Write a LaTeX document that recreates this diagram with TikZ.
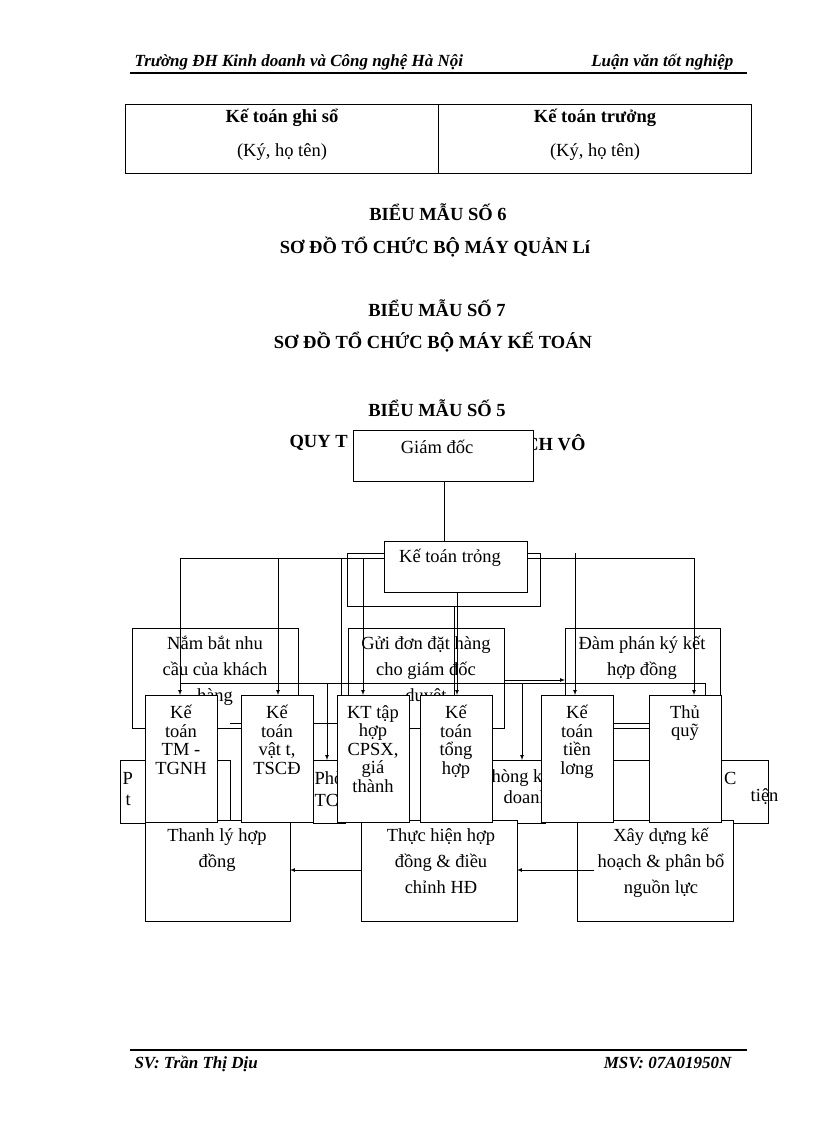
\documentclass[tikz,border=0pt]{standalone}
\usepackage{fontspec}
\setmainfont{Liberation Serif}
\begin{document}
\begin{tikzpicture}[x=1pt,y=-1pt,
 bx/.style={draw,fill=white,line width=0.8pt},
 t/.style={font=\fontsize{18.5}{20}\selectfont,align=center},
 tf/.style={font=\fontsize{18.5}{18.5}\selectfont,align=center},
 tb/.style={font=\bfseries\fontsize{18.5}{20}\selectfont},
 hd/.style={font=\itshape\bfseries\fontsize{17}{18}\selectfont},
 ar/.style={-latex,line width=0.7pt},
 ln/.style={line width=0.7pt}]
\useasboundingbox (0,0) rectangle (816,1123);
% header
\node[hd,anchor=base west] (h1) at (131,67) {Trường ĐH Kinh doanh và Công nghệ Hà Nội};
\node[hd,anchor=base east] (h2) at (737,67) {Luận văn tốt nghiệp};
\draw[line width=1.5pt] (130,73) -- (747,73);
% table
\draw[line width=0.8pt] (125,104) rectangle (751,173);
\draw[line width=0.8pt] (438,104) -- (438,173);
\node[tb] (k1) at (282,118) {Kế toán ghi sổ};
\node[t] (k2) at (282,152) {(Ký, họ tên)};
\node[tb] (k3) at (595,118) {Kế toán trưởng};
\node[t] (k4) at (595,152) {(Ký, họ tên)};
% titles
\node[tb] (t1) at (438,212) {BIỂU MẪU SỐ 6};
\node[tb] (t2) at (435,247) {SƠ ĐỒ TỔ CHỨC BỘ MÁY QUẢN Lí};
\node[tb] (t3) at (437,308) {BIỂU MẪU SỐ 7};
\node[tb] (t4) at (433,342) {SƠ ĐỒ TỔ CHỨC BỘ MÁY KẾ TOÁN};
\node[tb] (t5) at (437,408) {BIỂU MẪU SỐ 5};
\node[tb,anchor=west] (t6) at (286,443) {QUY T};
\node[tb,anchor=east] (t7) at (589,443) {CH VÔ};
% background boxes row 2
\draw[bx] (132,628) rectangle (298,728);
\node[t,anchor=north] (n1) at (215,633) {Nắm bắt nhu\\[6pt]cầu của khách\\[6pt]hàng};
\draw[bx] (348,628) rectangle (504,728);
\node[t,anchor=north] (n2) at (426,633) {Gửi đơn đặt hàng\\[6pt]cho giám đốc\\[6pt]duyệt};
\draw[bx] (565,628) rectangle (720,728);
\node[t,anchor=north] (n3) at (642,633) {Đàm phán ký kết\\[6pt]hợp đồng};
% row 3 background
\draw[bx] (120,760) rectangle (230,823);
\node[t,anchor=west] (p1) at (119,778) {P}; \node[t,anchor=west] (p1b) at (122,800) {t};
\draw[bx] (313,760) rectangle (345,823);
\node[t,anchor=west] (p2) at (311,778) {Phò}; \node[t,anchor=west] (p2b) at (311,800) {TC};
\draw[bx] (492,760) rectangle (545,823);
\node[t,anchor=west] (p3) at (488,778) {hòng k}; \node[t,anchor=west] (p3b) at (500,797) {doanh};
\draw[bx] (613,760) rectangle (768,823);
\node[t,anchor=east] (p4) at (740,778) {C}; \node[t,anchor=east] (p4b) at (782,797) {tiện};
% connectors behind
\draw[ln] (180,683) -- (565,683);
\draw[ar] (504,680) -- (565,680);
\draw[ln] (504,683) -- (705,683) -- (705,698);
\draw[ar] (327,683) -- (327,760);
\draw[ar] (522,683) -- (522,760);
\draw[ln] (230,723) -- (241,723) (313,723) -- (348,723) (613,723) -- (649,723);
% row 4
\draw[bx] (145,820) rectangle (290,921);
\node[t,anchor=north] (r1) at (217,825) {Thanh lý hợp\\[6pt]đồng};
\draw[bx] (361,820) rectangle (517,921);
\node[t,anchor=north] (r2) at (441,825) {Thực hiện hợp\\[6pt]đồng \& điều\\[6pt]chỉnh HĐ};
\draw[bx] (577,820) rectangle (733,921);
\node[t,anchor=north] (r3) at (661,825) {Xây dựng kế\\[6pt]hoạch \& phân bổ\\[6pt]nguồn lực};
\draw[ar] (r3.west |- 0,870) -- (517,870);
\draw[ar] (361,870) -- (290,870);
% top of chart
\draw[bx] (347,553) rectangle (540,606);
\node[draw,fill=white,line width=0.8pt,minimum width=180pt,minimum height=51pt,anchor=north west] (gd) at (353,430) {};
\node[t] (gdt) at (437,447) {Giám đốc};
\node[bx,minimum width=143pt,minimum height=51pt,anchor=north west] (kt) at (384,541) {};
\node[t] (ktt) at (450,558) {Kế toán trỏng};
\draw[ln] (444,481) -- (444,541);
\draw[ln] (180,558) -- (384,558) (527,558) -- (694,558);
\draw[ln] (341,558) -- (341,698);
\draw[ln] (454,606) -- (454,698);
% foreground boxes
\tikzset{fg/.style={bx,minimum width=72pt,minimum height=127pt,anchor=north west}}
\node[fg] (a) at (145,695) {}; \node[tf,anchor=north] (at) at (181,702) {Kế\\toán\\TM -\\TGNH};
\node[fg] (b) at (241,695) {}; \node[tf,anchor=north] (bt) at (277,702) {Kế\\toán\\vật t,\\TSCĐ};
\node[fg] (c) at (337,695) {}; \node[tf,anchor=north] (ct) at (373,702) {KT tập\\hợp\\CPSX,\\giá\\thành};
\node[fg] (d) at (420,695) {}; \node[tf,anchor=north] (dt) at (456,702) {Kế\\toán\\tổng\\hợp};
\node[fg] (e) at (541,695) {}; \node[tf,anchor=north] (et) at (577,702) {Kế\\toán\\tiền\\lơng};
\node[fg] (f) at (649,695) {}; \node[tf,anchor=north] (ft) at (685,702) {Thủ\\quỹ};
% arrows to foreground
\draw[ar] (180,558) -- (a.north -| 180,0);
\draw[ar] (278,558) -- (b.north -| 278,0);
\draw[ar] (363,558) -- (c.north -| 363,0);
\draw[ar] (457,592) -- (d.north -| 457,0);
\draw[ar] (575,553) -- (e.north -| 575,0);
\draw[ar] (694,558) -- (f.north -| 694,0);
% footer
\draw[line width=1.5pt] (130,1050) -- (747,1050);
\node[hd,anchor=base west] (f1) at (131,1068) {SV: Trần Thị Dịu};
\node[hd,anchor=base east] (f2) at (735,1068) {MSV: 07A01950N};
\end{tikzpicture}
\end{document}
